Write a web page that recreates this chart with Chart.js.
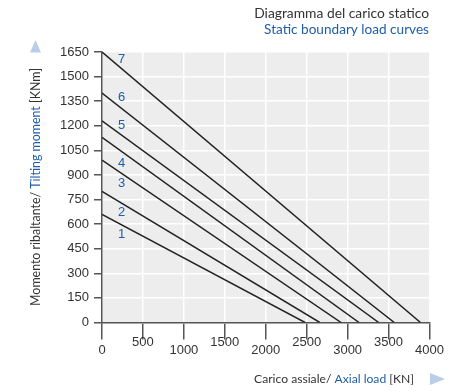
<!DOCTYPE html>
<html>
<head>
<meta charset="utf-8">
<script src="https://cdn.jsdelivr.net/npm/chart.js@4"></script>
<style>
  html, body { margin: 0; padding: 0; background: #fff; }
  #wrap { width: 459px; height: 392px; }
</style>
</head>
<body>
<div id="wrap"><canvas id="staticChart" width="459" height="392"></canvas></div>
<script>
// curves: moment at zero axial load -> axial load at zero moment
const curveNames = ['1', '2', '3', '4', '5', '6', '7'];
const momentAtZeroLoad = [660, 800, 990, 1130, 1230, 1400, 1650];
const loadAtZeroMoment = [2480, 2660, 2920, 3140, 3380, 3570, 3890];

// where the curve numbers sit (data coords)
const nameX = [240, 240, 240, 240, 240, 240, 240];
const nameY = [539, 674, 851, 973, 1200, 1375, 1603];

const xMax = 4000, xStep = 500;
const yMax = 1650, yStep = 150;

const blue = '#1f5ea8';
const dark = '#333333';
const textFont = 'Lato, "Open Sans", sans-serif';

const datasets = curveNames.map((n, i) => ({
    label: n,
    data: [{x: 0, y: momentAtZeroLoad[i]}, {x: loadAtZeroMoment[i], y: 0}],
    showLine: true,
    borderColor: '#222',
    borderWidth: 1.5,
    pointRadius: 0
}));

// draw coloured text pieces, sized so the whole string is `width` px wide
function drawParts(ctx, parts, x, y, align, width) {
    ctx.font = '13px ' + textFont;
    let total = 0;
    parts.forEach(p => total += ctx.measureText(p[0]).width);
    const size = 13 * width / total;
    ctx.font = size.toFixed(2) + 'px ' + textFont;
    total = 0;
    parts.forEach(p => total += ctx.measureText(p[0]).width);
    let cx = align === 'right' ? x - total : x - total / 2;
    ctx.textAlign = 'left';
    parts.forEach(p => {
        ctx.fillStyle = p[1];
        ctx.fillText(p[0], cx, y);
        cx += ctx.measureText(p[0]).width;
    });
}

const decorations = {
    id: 'decorations',
    beforeDraw(chart) {
        const {ctx, chartArea: a} = chart;
        ctx.save();
        ctx.fillStyle = '#ededed';
        ctx.fillRect(a.left, a.top, a.right - a.left, a.bottom - a.top);
        ctx.restore();
    },
    afterDraw(chart) {
        const {ctx, scales} = chart;
        ctx.save();
        ctx.textBaseline = 'middle';

        // curve numbers
        ctx.font = '13px "Liberation Sans", Arial, sans-serif';
        ctx.fillStyle = blue;
        ctx.textAlign = 'center';
        curveNames.forEach((n, i) => {
            ctx.fillText(n, scales.x.getPixelForValue(nameX[i]), scales.y.getPixelForValue(nameY[i]));
        });

        // top-right titles
        drawParts(ctx, [['Diagramma del carico statico', dark]], 429, 14, 'right', 175);
        drawParts(ctx, [['Static boundary load curves', blue]], 429, 30, 'right', 165);

        // x axis title
        drawParts(ctx, [['Carico assiale/ ', dark], ['Axial load', blue], [' [KN]', dark]], 414, 379, 'right', 160);

        // y axis title
        ctx.save();
        ctx.translate(36, 187);
        ctx.rotate(-Math.PI / 2);
        drawParts(ctx, [['Momento ribaltante/ ', dark], ['Tilting moment', blue], [' [KNm]', dark]], 0, 0, 'center', 238);
        ctx.restore();

        // arrow markers
        ctx.fillStyle = '#b9cdea';
        ctx.beginPath();
        ctx.moveTo(35.5, 40); ctx.lineTo(41, 52.5); ctx.lineTo(30, 52.5); ctx.closePath();
        ctx.fill();
        ctx.beginPath();
        ctx.moveTo(445, 379); ctx.lineTo(430, 373); ctx.lineTo(430, 385); ctx.closePath();
        ctx.fill();
        ctx.restore();
    }
};

const config = {
    type: 'scatter',
    data: {datasets},
    options: {
        responsive: false,
        animation: false,
        layout: {padding: {left: 0, top: 52, right: 29.5, bottom: 0}},
        plugins: {legend: {display: false}, tooltip: {enabled: false}},
        scales: {
            x: {
                type: 'linear',
                min: 0, max: xMax,
                afterFit: s => { s.height = 69.5; },
                grid: {color: '#ffffff', lineWidth: 1.5, tickColor: '#555', tickLength: 17, tickWidth: 1.5},
                border: {color: '#555', width: 1.5},
                ticks: {
                    stepSize: xStep,
                    padding: -1,
                    color: dark,
                    maxRotation: 0,
                    autoSkip: false,
                    font: {family: '"Liberation Sans", Arial, sans-serif', size: 13, lineHeight: 0.62},
                    callback: v => (v / xStep) % 2 === 1 ? [String(v), ''] : ['', String(v)]
                }
            },
            y: {
                type: 'linear',
                min: 0, max: yMax,
                afterFit: s => { s.width = 102; },
                grid: {color: '#ffffff', lineWidth: 1.5, tickColor: '#555', tickLength: 8, tickWidth: 1.5},
                border: {color: '#555', width: 1.5},
                ticks: {
                    stepSize: yStep,
                    padding: 5,
                    color: dark,
                    font: {family: '"Liberation Sans", Arial, sans-serif', size: 13},
                    callback: v => String(v)
                }
            }
        }
    },
    plugins: [decorations]
};

new Chart(document.getElementById('staticChart'), config);
</script>
</body>
</html>
